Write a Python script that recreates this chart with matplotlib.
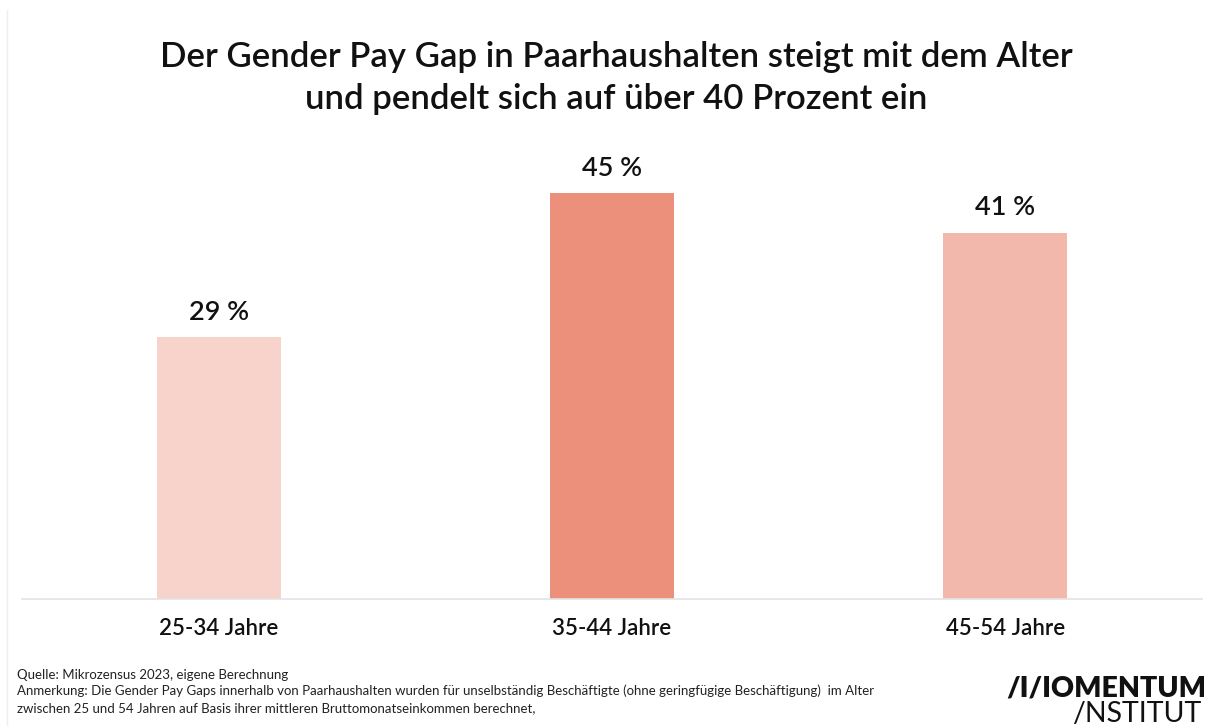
import matplotlib
matplotlib.use("Agg")
import matplotlib.pyplot as plt
from matplotlib.lines import Line2D

categories = ["25-34 Jahre", "35-44 Jahre", "45-54 Jahre"]
values = [29.0, 45.0, 40.6]
labels = ["29 %", "45 %", "41 %"]
colors = ["#F7D3CB", "#EC907C", "#F3B8AC"]

title = "Der Gender Pay Gap in Paarhaushalten steigt mit dem Alter\nund pendelt sich auf über 40 Prozent ein"
source = "Quelle: Mikrozensus 2023, eigene Berechnung"
note = ("Anmerkung: Die Gender Pay Gaps innerhalb von Paarhaushalten wurden für unselbständig Beschäftigte "
        "(ohne geringfügige Beschäftigung)  im Alter\nzwischen 25 und 54 Jahren auf Basis ihrer mittleren "
        "Bruttomonatseinkommen berechnet,")

plt.rcParams['font.family'] = ['Lato', 'DejaVu Sans']

W, H = 1208, 726
fig = plt.figure(figsize=(W / 100, H / 100), dpi=100)
fig.patch.set_facecolor("white")

ax = fig.add_axes([22 / W, 1 - 599 / H, (1202 - 22) / W, 451 / H])
x = range(len(categories))
ax.bar(x, values, width=0.315, color=colors, zorder=2)
ax.set_xlim(-0.5, 2.5)
ax.set_ylim(0, 50)
for s in ["top", "right", "left"]:
    ax.spines[s].set_visible(False)
ax.spines["bottom"].set_color("#E3E3E3")
ax.spines["bottom"].set_linewidth(1.2)
ax.set_yticks([])
ax.set_xticks(list(x))
ax.set_xticklabels(categories, fontsize=16, fontweight="semibold", color="#111111")
ax.tick_params(axis="x", length=0, pad=14)

for xi, v, lab in zip(x, values, labels):
    ax.annotate(lab, (xi, v), xytext=(0, 9), textcoords="offset points",
                ha="center", va="bottom", fontsize=19.5, fontweight="semibold", color="#111111")

fig.text(616 / W, 1 - 78 / H, title, ha="center", va="center", fontsize=25,
         fontweight="semibold", color="#111111", linespacing=1.4)

fig.text(17 / W, 1 - 675 / H, source, ha="left", va="center", fontsize=9.5, color="#222222")
fig.text(17 / W, 1 - 699 / H, note, ha="left", va="center", fontsize=9.5, color="#222222",
         linespacing=1.5)

fig.text(1006 / W, 1 - 688 / H, "/I/IOMENTUM", ha="left", va="center", fontsize=20.5,
         fontweight="heavy", color="#111111")
fig.text(1072 / W, 1 - 714 / H, "/NSTITUT", ha="left", va="center", fontsize=20.5,
         fontweight="normal", color="#111111")

fig.add_artist(Line2D([7 / W, 7 / W], [0, 1 - 10 / H], transform=fig.transFigure,
                      color="#EEEEEE", linewidth=1))

fig.savefig("out.png", dpi=100, facecolor="white")
